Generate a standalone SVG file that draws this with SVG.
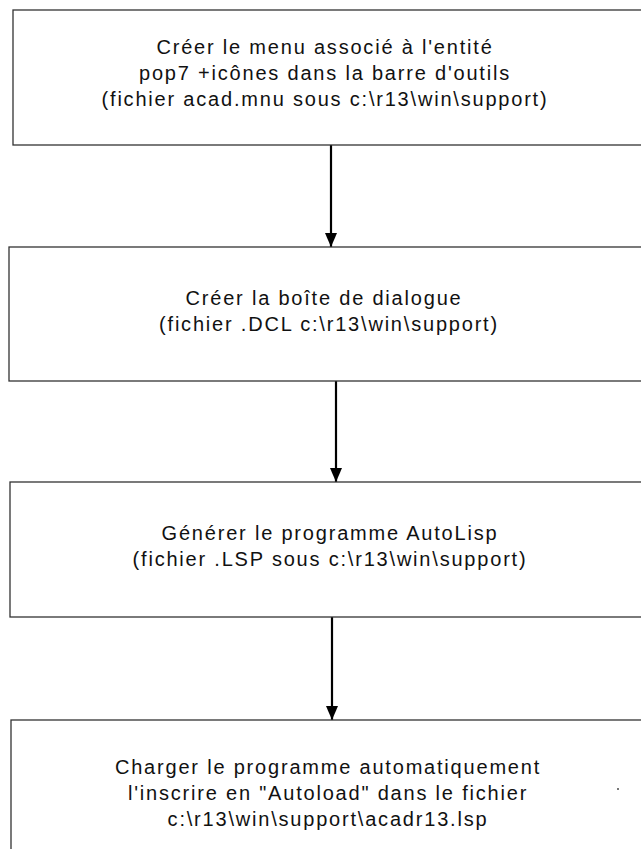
<svg xmlns="http://www.w3.org/2000/svg" width="641" height="849" viewBox="0 0 641 849">
<style>
.box{fill:#fff;stroke:#333;stroke-width:1.3}
.t{font-family:"Liberation Sans",Arial,sans-serif;font-size:20px;fill:#111;text-anchor:middle;letter-spacing:1.8px}
.c{stroke:#000;stroke-width:2.2;fill:none}
</style>
<defs>
<marker id="ah" viewBox="0 0 14 12" refX="14" refY="6" markerWidth="14" markerHeight="12" markerUnits="userSpaceOnUse" orient="auto">
<path d="M0,0 L14,6 L0,12 Z" fill="#000"/>
</marker>
</defs>
<rect width="641" height="849" fill="#fff"/>
<g id="connectors">
<line class="c" x1="331" y1="145" x2="331" y2="247" marker-end="url(#ah)"/>
<line class="c" x1="336" y1="381" x2="336" y2="482" marker-end="url(#ah)"/>
<line class="c" x1="332" y1="617" x2="332" y2="720" marker-end="url(#ah)"/>
</g>
<g id="node1">
<rect class="box" x="13" y="10" width="640" height="135"/>
<text class="t" x="325" y="54">Créer le menu associé à l'entité</text>
<text class="t" x="325" y="80">pop7 +icônes dans la barre d'outils</text>
<text class="t" x="325" y="106">(fichier acad.mnu sous c:\r13\win\support)</text>
</g>
<g id="node2">
<rect class="box" x="9" y="247" width="644" height="134"/>
<text class="t" x="324" y="305">Créer la boîte de dialogue</text>
<text class="t" x="329" y="331"> (fichier .DCL c:\r13\win\support)</text>
</g>
<g id="node3">
<rect class="box" x="10" y="482" width="643" height="135"/>
<text class="t" x="330" y="540">Générer le programme AutoLisp</text>
<text class="t" x="330" y="566">(fichier .LSP sous c:\r13\win\support)</text>
</g>
<g id="node4">
<rect class="box" x="11" y="720" width="642" height="140"/>
<text class="t" x="328" y="774">Charger le programme automatiquement</text>
<text class="t" x="328" y="800">l'inscrire en "Autoload" dans le fichier</text>
<text class="t" x="328" y="826">c:\r13\win\support\acadr13.lsp</text>
<rect x="617" y="788" width="2" height="2" fill="#777"/>
</g>
</svg>
